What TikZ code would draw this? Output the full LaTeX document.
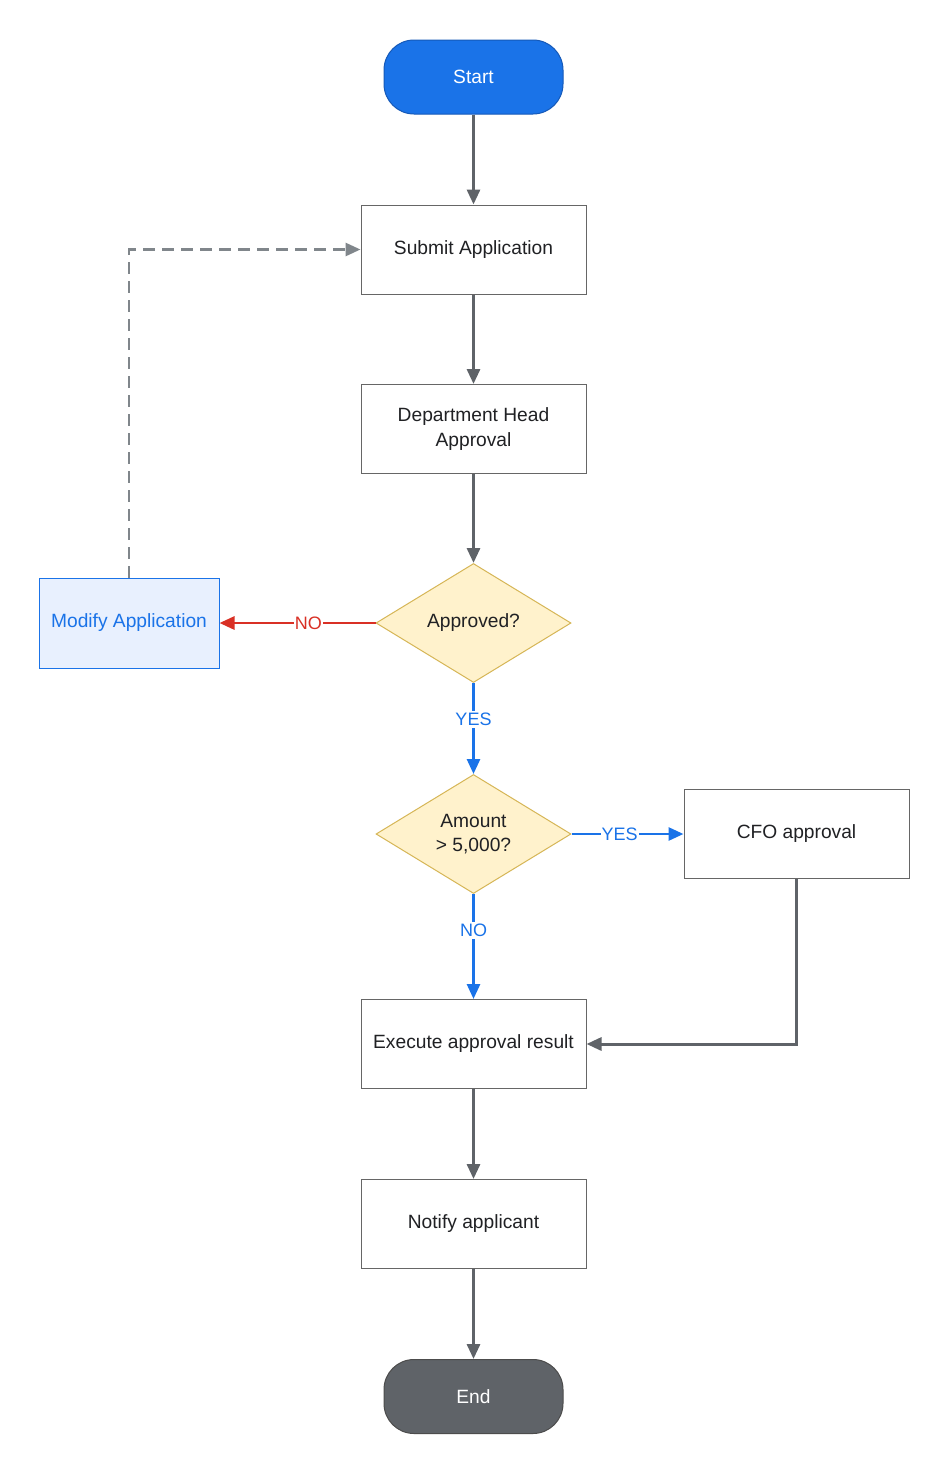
\documentclass[tikz,border=0pt]{standalone}
\usepackage{fontspec}
\setmainfont{Liberation Sans}
\usetikzlibrary{arrows.meta,shapes.geometric}
\definecolor{gblue}{HTML}{1A73E8}
\definecolor{gbluedark}{HTML}{1559B8}
\definecolor{ggray}{HTML}{5F6368}
\definecolor{gdash}{HTML}{80868B}
\definecolor{gred}{HTML}{D93025}
\definecolor{ylfill}{HTML}{FFF2CC}
\definecolor{yldraw}{HTML}{D6B656}
\definecolor{lbfill}{HTML}{E8F0FE}
\definecolor{boxdraw}{HTML}{666666}
\definecolor{txt}{HTML}{202124}
\begin{document}
\begin{tikzpicture}[x=1pt,y=-1pt,
  every node/.style={font=\fontsize{19.2}{24.5}\selectfont,text=txt},
  term/.style={rounded corners=30pt,minimum width=179pt,minimum height=74pt,inner sep=0pt,line width=1pt},
  proc/.style={draw=boxdraw,fill=white,line width=1pt,minimum width=225pt,minimum height=89pt,inner sep=0pt,align=center},
  dec/.style={diamond,draw=yldraw,fill=ylfill,line width=1pt,minimum width=195pt,minimum height=119pt,aspect=1.64,inner sep=0pt,align=center},
  flow/.style={draw=ggray,line width=3pt,-{Triangle[length=15pt,width=13pt]}},
  yesflow/.style={draw=gblue,line width=2.8pt,-{Triangle[length=15pt,width=13pt]}},
  noflow/.style={draw=gred,line width=2.8pt,-{Triangle[length=15pt,width=13pt]}},
  dashflow/.style={draw=gdash,line width=2.8pt,dash pattern=on 12pt off 7pt,-{Triangle[length=15pt,width=13pt]}},
  lbl/.style={fill=white,inner xsep=0.8pt,inner ysep=2pt,font=\fontsize{18}{20}\selectfont}
]
\useasboundingbox[fill=white] (0,0) rectangle (945,1470);

\node[term,draw=gbluedark,fill=gblue,text=white] (start) at (473.5,77) {Start};
\node[proc] (submit) at (473.5,249.5) {Submit Application};
\node[proc] (dept) at (473.5,429) {Department Head\\Approval};
\node[dec] (appr) at (473.5,623) {Approved?};
\node[proc,draw=gblue,fill=lbfill,text=gblue,minimum width=180pt,minimum height=90pt] (modify) at (129,623) {Modify Application};
\node[dec] (amount) at (473.5,834) {Amount\\> 5,000?};
\node[proc] (cfo) at (796.5,834) {CFO approval};
\node[proc] (exec) at (473.5,1044) {Execute approval result};
\node[proc] (notify) at (473.5,1224) {Notify applicant};
\node[term,draw=black!70,fill=ggray,text=white] (end) at (473.5,1396.5) {End};

\draw[flow] (start) -- (submit);
\draw[flow] (submit) -- (dept);
\draw[flow] (dept) -- (appr);
\draw[noflow] (appr.west) -- (modify.east);
\draw[dashflow] (modify.north) |- (submit.west);
\draw[yesflow] (appr.south) -- (amount.north);
\draw[yesflow] (amount.east) -- (cfo.west);
\draw[yesflow] (amount.south) -- (exec.north);
\draw[flow] (cfo.south) |- (exec.east);
\draw[flow] (exec) -- (notify);
\draw[flow] (notify) -- (end);

\path (appr.west) -- node[lbl,inner ysep=0.8pt,inner xsep=1pt,text=gred,pos=0.43] (lno) {NO} (modify.east);
\path (appr.south) -- node[lbl,inner xsep=3pt,text=gblue,pos=0.4] (lyes1) {YES} (amount.north);
\path (amount.east) -- node[lbl,inner ysep=0.8pt,inner xsep=1pt,text=gblue,pos=0.43] (lyes2) {YES} (cfo.west);
\path (amount.south) -- node[lbl,inner xsep=3pt,text=gblue,pos=0.35] (lno2) {NO} (exec.north);
\end{tikzpicture}
\end{document}
